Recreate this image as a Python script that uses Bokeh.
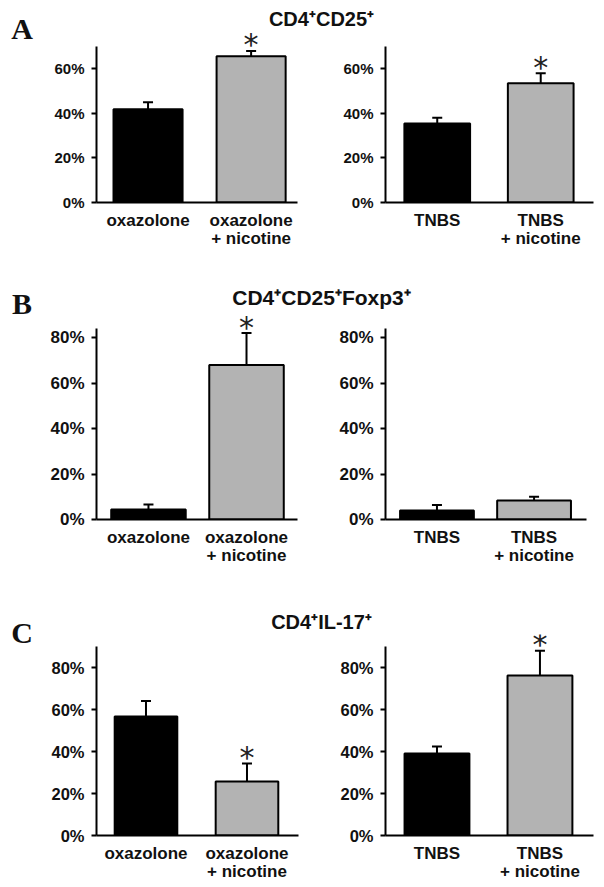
from bokeh.plotting import figure
from bokeh.layouts import column, row
from bokeh.models import (Range1d, FixedTicker, PrintfTickFormatter, Whisker,
                          TeeHead, ColumnDataSource, Label)
from bokeh.core.properties import value
from bokeh.embed import file_html
from bokeh.resources import INLINE

# ---------------- data ----------------
oxa_cats = ["oxazolone", "oxazolone\n+ nicotine"]
tnbs_cats = ["TNBS", "TNBS\n+ nicotine"]
bar_colors = ["#000000", "#b3b3b3"]

titles = ["CD4\u207aCD25\u207a", "CD4\u207aCD25\u207aFoxp3\u207a", "CD4\u207aIL-17\u207a"]
letters = ["A", "B", "C"]

# Panel A: CD4+CD25+
a_oxa_vals = [41.8, 65.6]
a_oxa_errs = [3.2, 2.4]
a_oxa_sig = [False, True]
a_tnbs_vals = [35.5, 53.5]
a_tnbs_errs = [2.5, 4.5]
a_tnbs_sig = [False, True]
a_ticks = [0, 20, 40, 60]
a_ymax = 70

# Panel B: CD4+CD25+Foxp3+
b_oxa_vals = [4.4, 68.0]
b_oxa_errs = [2.2, 14.0]
b_oxa_sig = [False, True]
b_tnbs_vals = [4.0, 8.4]
b_tnbs_errs = [2.4, 1.6]
b_tnbs_sig = [False, False]
b_ticks = [0, 20, 40, 60, 80]
b_ymax = 84

# Panel C: CD4+IL-17+
c_oxa_vals = [56.7, 25.7]
c_oxa_errs = [7.3, 8.6]
c_oxa_sig = [False, True]
c_tnbs_vals = [39.0, 76.2]
c_tnbs_errs = [3.4, 11.8]
c_tnbs_sig = [False, True]
c_ticks = [0, 20, 40, 60, 80]
c_ymax = 90

FONT = "Liberation Sans"
WLET = 40          # column holding the panel letters
WL = 262           # left subplot
WR = 301           # right subplot


def panel(cats, vals, errs, sig, yticks, ymax, xr, bw, lr, w, geom, tick_fs):
    # geom = (figure top, axis top, baseline, figure bottom) in page pixels
    left, right = lr
    top_px, axis_top, base_px, bottom_px = geom
    h = bottom_px - top_px
    y_end = ymax * (base_px - top_px) / (base_px - axis_top)
    p = figure(width=w, height=h, x_range=Range1d(*xr), y_range=Range1d(0, y_end),
               toolbar_location=None, output_backend="svg", title=None,
               min_border_left=left, min_border_right=right,
               min_border_top=0, min_border_bottom=bottom_px - base_px)
    idx = list(range(len(cats)))
    upper = [v + e for v, e in zip(vals, errs)]
    src = ColumnDataSource(dict(x=idx, top=vals, lower=vals, upper=upper,
                                color=bar_colors[:len(cats)]))
    p.vbar(x="x", top="top", bottom=0, width=bw, source=src,
           fill_color="color", line_color="black", line_width=2)
    p.add_layout(Whisker(base="x", lower="lower", upper="upper", source=src,
                         line_width=2, line_color="black",
                         upper_head=TeeHead(size=10, line_width=2, line_color="black"),
                         lower_head=None))
    for i, s in enumerate(sig):
        if s:
            p.add_layout(Label(x=i, y=upper[i], text="*", text_align="center",
                               text_baseline="middle", y_offset=6,
                               text_font="DejaVu Sans", text_font_size="30px",
                               text_color="#222222"))
    # axes
    p.xaxis.ticker = FixedTicker(ticks=idx)
    p.xaxis.major_label_overrides = {i: c for i, c in enumerate(cats)}
    p.xaxis.major_tick_line_color = None
    p.xaxis.minor_tick_line_color = None
    p.xaxis.major_label_text_font = FONT
    p.xaxis.major_label_text_font_style = "bold"
    p.xaxis.major_label_text_font_size = "17px"
    p.xaxis.major_label_text_line_height = 0.95
    p.xaxis.major_label_text_color = "#111111"
    p.xaxis.major_label_standoff = 2
    p.xaxis.axis_line_width = 2

    p.yaxis.ticker = FixedTicker(ticks=yticks)
    p.yaxis.bounds = (0, ymax)
    p.yaxis.formatter = PrintfTickFormatter(format="%d%%")
    p.yaxis.major_tick_out = 5
    p.yaxis.major_tick_in = 0
    p.yaxis.major_tick_line_width = 2
    p.yaxis.minor_tick_line_color = None
    p.yaxis.axis_line_width = 2
    p.yaxis.major_label_text_font = FONT
    p.yaxis.major_label_text_font_style = "bold"
    p.yaxis.major_label_text_font_size = tick_fs
    p.yaxis.major_label_text_color = "#111111"
    p.yaxis.major_label_standoff = 7

    p.grid.visible = False
    p.outline_line_color = None
    return p


def text_fig(w, h):
    p = figure(width=w, height=h, x_range=Range1d(0, w), y_range=Range1d(h, 0),
               toolbar_location=None, output_backend="svg", title=None,
               x_axis_type=None, y_axis_type=None, min_border=0)
    p.grid.visible = False
    p.outline_line_color = None
    return p


def letter_fig(h, letter, y):
    p = text_fig(WLET, h)
    p.text(x=[21.5], y=[y], text=[letter], text_align="center",
           text_baseline="middle", text_font=value("Liberation Serif"),
           text_font_style="bold", text_font_size="30px", text_color="#111111")
    return p


def title_fig(h, title, y, fs):
    p = text_fig(WL + WR, h)
    p.text(x=[321 - WLET], y=[y], text=[title], text_align="center",
           text_baseline="middle", text_font=value(FONT), text_font_style="bold",
           text_font_size=fs, text_color="#111111")
    return p


# ---- block A (page rows 0..270) ----
gA = (30, 46, 202, 270)
pA1 = panel(oxa_cats, a_oxa_vals, a_oxa_errs, a_oxa_sig, a_ticks, a_ymax,
            (-0.5, 1.45), 0.67, (56, 5), WL, gA, "15px")
pA2 = panel(tnbs_cats, a_tnbs_vals, a_tnbs_errs, a_tnbs_sig, a_ticks, a_ymax,
            (-0.5, 1.51), 0.635, (83, 10), WR, gA, "15px")
blockA = row(letter_fig(270, letters[0], 27.5),
             column(title_fig(30, titles[0], 18, "20px"), row(pA1, pA2)))

# ---- block B (page rows 270..585) ----
gB = (310, 328, 519, 585)
pB1 = panel(oxa_cats, b_oxa_vals, b_oxa_errs, b_oxa_sig, b_ticks, b_ymax,
            (-0.53, 1.52), 0.76, (56, 5), WL, gB, "17px")
pB2 = panel(tnbs_cats, b_tnbs_vals, b_tnbs_errs, b_tnbs_sig, b_ticks, b_ymax,
            (-0.53, 1.54), 0.76, (83, 17), WR, gB, "17px")
blockB = row(letter_fig(315, letters[1], 32.5),
             column(title_fig(40, titles[1], 26.5, "21px"), row(pB1, pB2)))

# ---- block C (page rows 585..886) ----
gC = (634, 646, 835, 886)
pC1 = panel(oxa_cats, c_oxa_vals, c_oxa_errs, c_oxa_sig, c_ticks, c_ymax,
            (-0.49, 1.51), 0.62, (56, 4), WL, gC, "16.5px")
pC2 = panel(tnbs_cats, c_tnbs_vals, c_tnbs_errs, c_tnbs_sig, c_ticks, c_ymax,
            (-0.5, 1.52), 0.63, (83, 10), WR, gC, "16.5px")
blockC = row(letter_fig(301, letters[2], 47),
             column(title_fig(49, titles[2], 36.5, "20px"), row(pC1, pC2)))

layout = column(blockA, blockB, blockC)

open("out.html", "w").write(file_html(layout, INLINE))
